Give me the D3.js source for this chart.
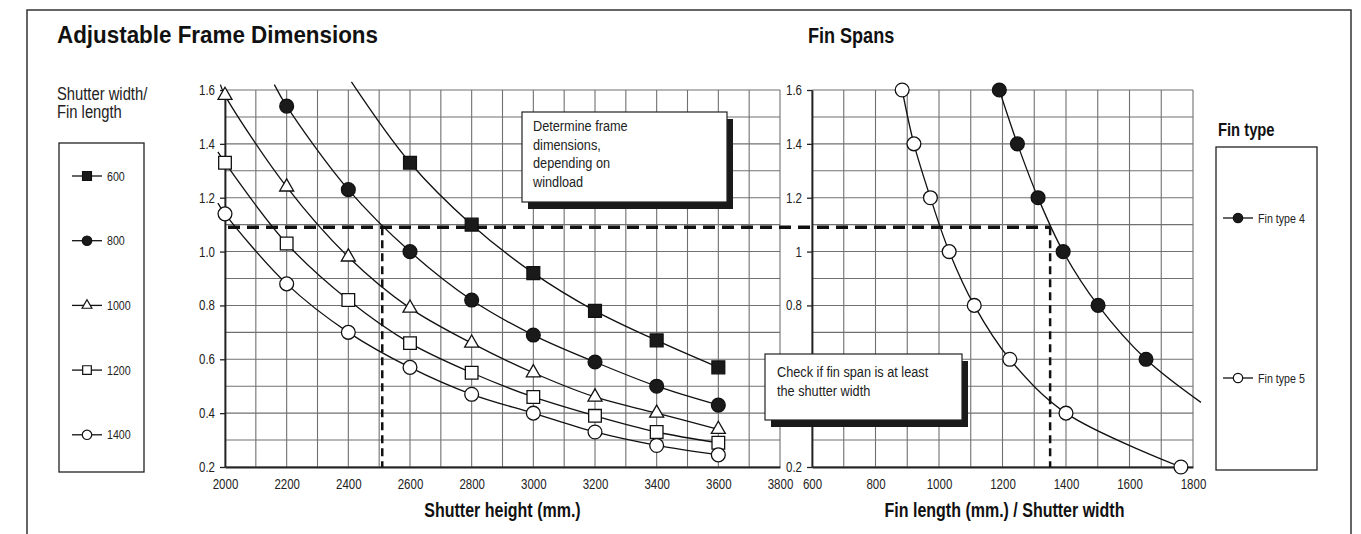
<!DOCTYPE html>
<html><head><meta charset="utf-8">
<script src="https://cdn.jsdelivr.net/npm/d3@7"></script>
<style>body{margin:0;background:#fff}svg{display:block}</style>
</head><body>
<script>
// ---------- DATA ----------
const heights = [2000, 2200, 2400, 2600, 2800, 3000, 3200, 3400, 3600];
const widthNames = ["600", "800", "1000", "1200", "1400"];
const v600  = [null, null, null, 1.33, 1.10, 0.92, 0.78, 0.67, 0.57];
const v800  = [null, 1.54, 1.23, 1.00, 0.82, 0.69, 0.59, 0.50, 0.43];
const v1000 = [1.58, 1.24, 0.98, 0.79, 0.66, 0.55, 0.46, 0.40, 0.34];
const v1200 = [1.33, 1.03, 0.82, 0.66, 0.55, 0.46, 0.39, 0.33, 0.29];
const v1400 = [1.14, 0.88, 0.70, 0.57, 0.47, 0.40, 0.33, 0.28, 0.245];
// where each line enters from outside (no marker): [height, value]
const lead600 = [2410, 1.63];
const lead800 = [2160, 1.62];
const lead1000 = [1985, 1.62];
const lead1200 = [1977, 1.37];
const lead1400 = [1977, 1.18];

const finLevels = [1.6, 1.4, 1.2, 1.0, 0.8, 0.6, 0.4, 0.2];
const finNames = ["Fin type 4", "Fin type 5"];
const fin4 = [1190, 1247, 1312, 1391, 1501, 1652, null, null];
const fin5 = [884, 921, 973, 1032, 1111, 1223, 1400, 1762];
const tail4 = [1825, 0.44];

const leftXTicks = [2000, 2200, 2400, 2600, 2800, 3000, 3200, 3400, 3600, 3800];
const leftXLabels = ["2000", "2200", "2400", "2600", "2800", "3000", "3200", "3400", "3600", "3800"];
const leftYTicks = [0.2, 0.4, 0.6, 0.8, 1.0, 1.2, 1.4, 1.6];
const leftYLabels = ["0.2", "0.4", "0.6", "0.8", "1.0", "1.2", "1.4", "1.6"];
const rightXTicks = [600, 800, 1000, 1200, 1400, 1600, 1800];
const rightXLabels = ["600", "800", "1000", "1200", "1400", "1600", "1800"];
// 0.4 and 0.6 are hidden under the callout box in the original
const rightYTicks = [0.2, 0.8, 1.0, 1.2, 1.4, 1.6];
const rightYLabels = ["0.2", "0.8", "1", "1.2", "1.4", "1.6"];

const guideLoad = 1.09, guideHeight = 2510, guideFin = 1350;

const titleLeft = "Adjustable Frame Dimensions";
const titleRight = "Fin Spans";
const legendLeftTitle = ["Shutter width/", "Fin length"];
const legendRightTitle = "Fin type";
const xTitleLeft = "Shutter height (mm.)";
const xTitleRight = "Fin length (mm.) / Shutter width";
const note1 = ["Determine frame", "dimensions,", "depending on", "windload"];
const note2 = ["Check if fin span is at least", "the shutter width"];

// ---------- SETUP ----------
const FN = "'Liberation Sans',Arial,Helvetica,sans-serif";
const NARROW = 0.82;
const svg = d3.select("body").append("svg").attr("width", 1361).attr("height", 534)
  .style("font-family", FN);

// emulate a condensed face: squeeze each text's glyphs horizontally
function narrow(sel, k = NARROW) {
  sel.each(function () {
    const L = this.getComputedTextLength();
    if (L > 0) d3.select(this).attr("textLength", L * k).attr("lengthAdjust", "spacingAndGlyphs");
  });
  return sel;
}

svg.append("rect").attr("x", 27).attr("y", 10).attr("width", 1324).attr("height", 560)
  .attr("fill", "none").attr("stroke", "#333").attr("stroke-width", 1.5);

const xL = d3.scaleLinear().domain([2000, 3800]).range([225, 780]);
const xR = d3.scaleLinear().domain([600, 1800]).range([812, 1193]);
const y = d3.scaleLinear().domain([0.2, 1.6]).range([467, 90]);

const gridY = d3.range(2, 17).map(d => d / 10);
const GRID = "#707070";

function grid(xs, xvals) {
  const g = svg.append("g");
  g.selectAll(".v").data(xvals).join("line")
    .attr("x1", d => xs(d)).attr("x2", d => xs(d)).attr("y1", y(1.6)).attr("y2", y(0.2))
    .attr("stroke", GRID).attr("stroke-width", 1.1);
  g.selectAll(".h").data(gridY).join("line")
    .attr("x1", xs.range()[0]).attr("x2", xs.range()[1]).attr("y1", d => y(d)).attr("y2", d => y(d))
    .attr("stroke", GRID).attr("stroke-width", 1.1);
}
grid(xL, d3.range(2000, 3801, 100));
grid(xR, d3.range(600, 1801, 100));

function axes(xs, xt, xl, yt, yl) {
  const gx = svg.append("g").attr("transform", `translate(0,${y(0.2)})`)
    .call(d3.axisBottom(xs).tickValues(xt).tickFormat((d, i) => xl[i]).tickSize(0).tickPadding(12).tickSizeOuter(0));
  gx.select(".domain").attr("stroke", "#222").attr("stroke-width", 1.8);
  narrow(gx.selectAll("text").attr("font-size", 14).attr("fill", "#222").attr("font-family", FN));
  const gy = svg.append("g").attr("transform", `translate(${xs.range()[0]},0)`)
    .call(d3.axisLeft(y).tickValues(yt).tickFormat((d, i) => yl[i]).tickSize(5).tickPadding(5).tickSizeOuter(0));
  gy.select(".domain").attr("stroke", "#222").attr("stroke-width", 1.8);
  gy.selectAll("line").attr("stroke", "#222").attr("stroke-width", 1.3);
  narrow(gy.selectAll("text").attr("font-size", 14).attr("fill", "#222").attr("font-family", FN));
}
axes(xL, leftXTicks, leftXLabels, leftYTicks, leftYLabels);
axes(xR, rightXTicks, rightXLabels, rightYTicks, rightYLabels);

// ---------- CURVES ----------
const curve = d3.curveCatmullRom.alpha(0.5);
const leftSeries = [
  { vals: v600, lead: lead600, sym: d3.symbolSquare, fill: "#1a1a1a", size: 165, lsize: 80 },
  { vals: v800, lead: lead800, sym: d3.symbolCircle, fill: "#1a1a1a", size: 150, lsize: 70 },
  { vals: v1000, lead: lead1000, sym: d3.symbolTriangle, fill: "#fff", size: 85, lsize: 42 },
  { vals: v1200, lead: lead1200, sym: d3.symbolSquare, fill: "#fff", size: 160, lsize: 75 },
  { vals: v1400, lead: lead1400, sym: d3.symbolCircle, fill: "#fff", size: 150, lsize: 70 }
];
const lineL = d3.line().x(d => xL(d[0])).y(d => y(d[1])).curve(curve);
leftSeries.forEach(s => {
  s.pts = heights.map((h, i) => [h, s.vals[i]]).filter(d => d[1] != null);
  svg.append("path").attr("d", lineL([s.lead, ...s.pts]))
    .attr("fill", "none").attr("stroke", "#111").attr("stroke-width", 1.3);
});

const lineR = d3.line().x(d => xR(d[0])).y(d => y(d[1])).curve(curve);
const rightSeries = [
  { vals: fin4, tail: tail4, fill: "#1a1a1a" },
  { vals: fin5, tail: null, fill: "#fff" }
];
rightSeries.forEach(s => {
  s.pts = finLevels.map((lv, i) => [s.vals[i], lv]).filter(d => d[0] != null);
  const all = s.tail ? [...s.pts, s.tail] : s.pts;
  svg.append("path").attr("d", lineR(all))
    .attr("fill", "none").attr("stroke", "#111").attr("stroke-width", 1.3);
});

// ---------- GUIDES ----------
svg.append("line").attr("x1", xL(2000) + 3).attr("x2", xR(guideFin)).attr("y1", y(guideLoad)).attr("y2", y(guideLoad))
  .attr("stroke", "#111").attr("stroke-width", 3.5).attr("stroke-dasharray", "12,7");
svg.append("line").attr("x1", xL(guideHeight)).attr("x2", xL(guideHeight)).attr("y1", y(guideLoad)).attr("y2", y(0.2))
  .attr("stroke", "#111").attr("stroke-width", 2.5).attr("stroke-dasharray", "8,5");
svg.append("line").attr("x1", xR(guideFin)).attr("x2", xR(guideFin)).attr("y1", y(guideLoad)).attr("y2", y(0.2))
  .attr("stroke", "#111").attr("stroke-width", 2.5).attr("stroke-dasharray", "8,5");

// ---------- MARKERS ----------
leftSeries.forEach(s => {
  svg.append("g").selectAll("path").data(s.pts).join("path")
    .attr("transform", d => `translate(${xL(d[0])},${y(d[1])})`)
    .attr("d", d3.symbol(s.sym, s.size))
    .attr("fill", s.fill).attr("stroke", "#111").attr("stroke-width", 1.3);
});
rightSeries.forEach(s => {
  svg.append("g").selectAll("path").data(s.pts).join("path")
    .attr("transform", d => `translate(${xR(d[0])},${y(d[1])})`)
    .attr("d", d3.symbol(d3.symbolCircle, 150))
    .attr("fill", s.fill).attr("stroke", "#111").attr("stroke-width", 1.3);
});

// ---------- CALLOUTS ----------
function callout(x, yy, w, h, lines, lh, fs, tx, ty) {
  svg.append("rect").attr("x", x + 6).attr("y", yy + 7).attr("width", w).attr("height", h).attr("fill", "#1a1a1a");
  svg.append("rect").attr("x", x).attr("y", yy).attr("width", w).attr("height", h)
    .attr("fill", "#fff").attr("stroke", "#222").attr("stroke-width", 1.2);
  narrow(svg.append("g").selectAll("text").data(lines).join("text")
    .attr("x", x + tx).attr("y", (d, i) => yy + ty + i * lh)
    .attr("font-size", fs).attr("fill", "#222").text(d => d));
}
callout(522, 112, 205, 90, note1, 18.5, 15.5, 11, 19);
callout(765, 354, 197, 66, note2, 18.5, 15.5, 12, 23);

// ---------- TITLES ----------
svg.append("text").attr("x", 57).attr("y", 43).attr("font-size", 23).attr("font-weight", "bold")
  .attr("fill", "#111").attr("textLength", 321).attr("lengthAdjust", "spacingAndGlyphs").text(titleLeft);
narrow(svg.append("text").attr("x", 808).attr("y", 43).attr("font-size", 22).attr("font-weight", "bold")
  .attr("fill", "#111").text(titleRight));
narrow(svg.append("text").attr("x", (225 + 780) / 2).attr("y", 517).attr("text-anchor", "middle")
  .attr("font-size", 19.5).attr("font-weight", "bold").attr("fill", "#111").text(xTitleLeft));
narrow(svg.append("text").attr("x", (812 + 1193) / 2 + 2).attr("y", 517).attr("text-anchor", "middle")
  .attr("font-size", 19.5).attr("font-weight", "bold").attr("fill", "#111").text(xTitleRight));

// ---------- LEGENDS ----------
narrow(svg.append("g").selectAll("text").data(legendLeftTitle).join("text")
  .attr("x", 57).attr("y", (d, i) => 100 + i * 18).attr("font-size", 18).attr("fill", "#222").text(d => d));
svg.append("rect").attr("x", 59).attr("y", 143).attr("width", 85).attr("height", 329)
  .attr("fill", "none").attr("stroke", "#222").attr("stroke-width", 1.3);
const legL = svg.append("g").selectAll("g").data(leftSeries).join("g")
  .attr("transform", (d, i) => `translate(87,${176 + i * 64.7})`);
legL.append("line").attr("x1", -15).attr("x2", 15).attr("stroke", "#111").attr("stroke-width", 1.3);
legL.append("path").attr("d", d => d3.symbol(d.sym, d.lsize)()).attr("fill", d => d.fill)
  .attr("stroke", "#111").attr("stroke-width", 1.2);
narrow(legL.append("text").attr("x", 20).attr("dy", "0.35em").attr("font-size", 13).attr("fill", "#222")
  .text((d, i) => widthNames[i]));

narrow(svg.append("text").attr("x", 1218).attr("y", 136).attr("font-size", 18).attr("font-weight", "bold")
  .attr("fill", "#111").text(legendRightTitle));
svg.append("rect").attr("x", 1216).attr("y", 147).attr("width", 101).attr("height", 323)
  .attr("fill", "none").attr("stroke", "#222").attr("stroke-width", 1.3);
const legR = svg.append("g").selectAll("g").data(rightSeries).join("g")
  .attr("transform", (d, i) => `translate(1238,${218 + i * 160})`);
legR.append("line").attr("x1", -15).attr("x2", 15).attr("stroke", "#111").attr("stroke-width", 1.3);
legR.append("path").attr("d", d3.symbol(d3.symbolCircle, 70)()).attr("fill", d => d.fill)
  .attr("stroke", "#111").attr("stroke-width", 1.2);
narrow(legR.append("text").attr("x", 20).attr("dy", "0.35em").attr("font-size", 13).attr("fill", "#222")
  .text((d, i) => finNames[i]));
</script>
</body></html>
